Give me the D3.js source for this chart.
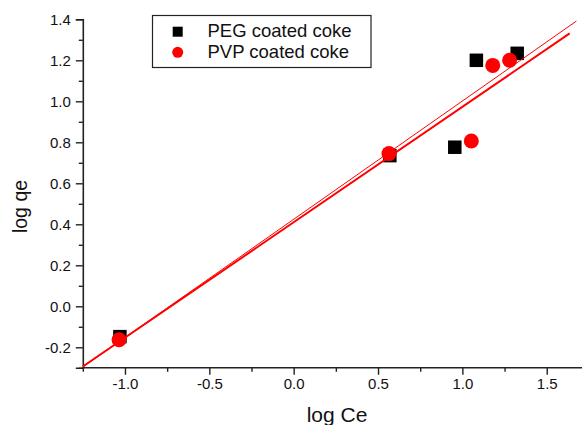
<!DOCTYPE html>
<html>
<head>
<meta charset="utf-8">
<script src="https://cdn.jsdelivr.net/npm/d3@7/dist/d3.min.js"></script>
<style>
  html, body { margin: 0; padding: 0; background: #fff; }
  svg { display: block; font-family: "Liberation Sans", Arial, sans-serif; }
</style>
</head>
<body>
<svg id="chart" width="582" height="425"></svg>
<script>
// Freundlich isotherm: log qe vs log Ce for the two coated cokes
const pegLogCe = [-1.03, 0.57, 0.955, 1.083, 1.325];
const pegLogQe = [-0.148, 0.735, 0.776, 1.2, 1.234];
const pvpLogCe = [-1.035, 0.565, 1.053, 1.18, 1.28];
const pvpLogQe = [-0.163, 0.745, 0.806, 1.175, 1.2];

// x-extent of each fitted line
const pegFitX = [-1.25, 1.676];
const pvpFitX = [-1.25, 1.636];

const seriesNames = ["PEG coated coke", "PVP coated coke"];
const xTicks = [-1.0, -0.5, 0.0, 0.5, 1.0, 1.5];
const xMinorTicks = [-1.25, -0.75, -0.25, 0.25, 0.75, 1.25, 1.75];
const yTicks = [-0.2, 0.0, 0.2, 0.4, 0.6, 0.8, 1.0, 1.2, 1.4];
const yMinorTicks = [-0.3, -0.1, 0.1, 0.3, 0.5, 0.7, 0.9, 1.1, 1.3];

const svg = d3.select("#chart");

const x = d3.scaleLinear().domain([-1.25, 1.75]).range([82.8, 588.9]);
const y = d3.scaleLinear().domain([-0.3, 1.4]).range([367.8, 19.3]);

// tick labels use a plain hyphen for negative numbers
const fmt = d3.formatLocale({ decimal: ".", thousands: ",", grouping: [3], currency: ["", ""], minus: "-" })
  .format(".1f");

// least-squares line through a series
function linearFit(xs, ys) {
  const mx = d3.mean(xs), my = d3.mean(ys);
  let sxy = 0, sxx = 0;
  xs.forEach((v, i) => { sxy += (v - mx) * (ys[i] - my); sxx += (v - mx) * (v - mx); });
  const slope = sxy / sxx;
  return { slope, intercept: my - slope * mx };
}

const axisColor = "#222";

// x axis: major and minor ticks
const xAxis = svg.append("g").attr("transform", `translate(0,${y(-0.3)})`);
xAxis.call(d3.axisBottom(x).tickValues(xTicks).tickSize(7).tickPadding(4).tickFormat(fmt));
xAxis.append("g").call(d3.axisBottom(x).tickValues(xMinorTicks).tickSize(4).tickFormat(""))
  .select(".domain").remove();

// y axis: major and minor ticks
const yAxis = svg.append("g").attr("transform", `translate(${x(-1.25)},0)`);
yAxis.call(d3.axisLeft(y).tickValues(yTicks).tickSize(7).tickPadding(5).tickFormat(fmt));
yAxis.append("g").call(d3.axisLeft(y).tickValues(yMinorTicks).tickSize(4).tickFormat(""))
  .select(".domain").remove();

svg.selectAll(".domain").attr("stroke", axisColor).attr("stroke-width", 1.6);
svg.selectAll(".tick line").attr("stroke", axisColor).attr("stroke-width", 1.4);
svg.selectAll(".tick text").attr("fill", "#111").attr("font-size", 15)
  .attr("font-family", "Liberation Sans, Arial, sans-serif");
xAxis.selectAll(".domain").attr("d", `M${x(-1.25)},0H582`);

// axis titles
svg.append("text").attr("x", 337).attr("y", 421.5).attr("text-anchor", "middle")
  .attr("font-size", 21).attr("fill", "#111").text("log Ce");
svg.append("text").attr("transform", "translate(27,206.5) rotate(-90)")
  .attr("text-anchor", "middle").attr("font-size", 19.5).attr("fill", "#111").text("log qe");

// markers
svg.append("g").selectAll("rect").data(pegLogCe).join("rect")
  .attr("x", (d) => x(d) - 6.75).attr("y", (d, i) => y(pegLogQe[i]) - 6.75)
  .attr("width", 13.5).attr("height", 13.5).attr("fill", "#000");

svg.append("g").selectAll("circle").data(pvpLogCe).join("circle")
  .attr("cx", (d) => x(d)).attr("cy", (d, i) => y(pvpLogQe[i]))
  .attr("r", 7.5).attr("fill", "#ff0000");

// fitted lines
const line = d3.line().x((d) => x(d[0])).y((d) => y(d[1]));
const pegFit = linearFit(pegLogCe, pegLogQe);
const pvpFit = linearFit(pvpLogCe, pvpLogQe);
svg.append("path")
  .datum(pegFitX.map((v) => [v, pegFit.intercept + pegFit.slope * v]))
  .attr("d", line).attr("fill", "none").attr("stroke", "#ff0000").attr("stroke-width", 1);
svg.append("path")
  .datum(pvpFitX.map((v) => [v, pvpFit.intercept + pvpFit.slope * v]))
  .attr("d", line).attr("fill", "none").attr("stroke", "#ff0000").attr("stroke-width", 2);

// legend
const legend = svg.append("g");
legend.append("rect").attr("x", 152.5).attr("y", 15.5).attr("width", 218.5).attr("height", 52)
  .attr("fill", "#fff").attr("stroke", "#222").attr("stroke-width", 1.2);
legend.append("rect").attr("x", 172.7).attr("y", 26.7).attr("width", 10).attr("height", 10)
  .attr("fill", "#000");
legend.append("circle").attr("cx", 177.7).attr("cy", 52.3).attr("r", 5.5).attr("fill", "#ff0000");
legend.selectAll("text.lbl").data(seriesNames).join("text").attr("class", "lbl")
  .attr("x", 207.5).attr("y", (d, i) => 37 + i * 21)
  .attr("font-size", 18.5).attr("fill", "#111").text((d) => d);
</script>
</body>
</html>
